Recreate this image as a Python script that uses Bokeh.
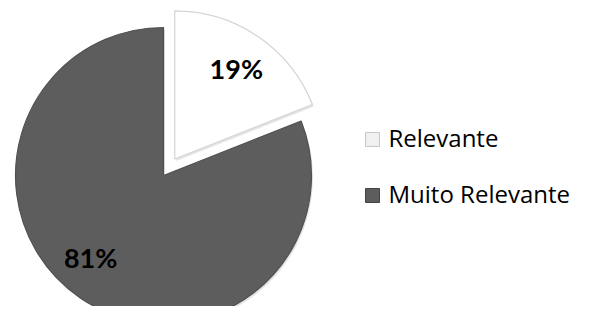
import numpy as np
from bokeh.plotting import figure
from bokeh.models import Range1d, ColumnDataSource
from bokeh.core.properties import value
from bokeh.embed import file_html
from bokeh.resources import INLINE

# ---- data ----
categories = ["Relevante", "Muito Relevante"]
shares = [19, 81]
labels = ["19%", "81%"]

# ---- style ----
colors = ["#ffffff", "#5d5d5d"]
edge_colors = ["#d4d4d4", "#505050"]
explode = [20, 0]
label_r = [0.74, 0.74]
label_dtheta = [0.0, np.deg2rad(-7.5)]

W, H = 577, 306
TOP = 322
p = figure(width=W, height=H, x_range=Range1d(0, W), y_range=Range1d(TOP - H, TOP),
           output_backend="svg", toolbar_location=None, min_border=0)
p.axis.visible = False
p.grid.visible = False
p.outline_line_color = None
p.background_fill_color = "white"

def sy(y):
    return TOP - np.asarray(y, dtype=float)

cx, cy, R = 163, float(sy(175)), 148

vals = np.array(shares, dtype=float)
frac = vals / vals.sum()
cum = np.concatenate([[0], np.cumsum(frac)])
starts = np.pi / 2 - 2 * np.pi * cum[:-1]
ends = np.pi / 2 - 2 * np.pi * cum[1:]
mids = (starts + ends) / 2
xs = cx + np.array(explode) * np.cos(mids)
ys = cy + np.array(explode) * np.sin(mids)

src = ColumnDataSource(dict(x=xs, y=ys, start=starts, end=ends, color=colors,
                            edge=edge_colors, cat=categories))

# soft shadow
p.wedge(x=xs + 1.5, y=ys - 2, radius=R, start_angle=starts, end_angle=ends,
        direction="clock", fill_color="#c4c4c4", fill_alpha=0.45, line_color=None)
p.wedge(x="x", y="y", radius=R, start_angle="start", end_angle="end",
        direction="clock", fill_color="color", line_color="edge", line_width=1.2,
        source=src)

# data labels
la = mids + np.array(label_dtheta)
lx = xs + np.array(label_r) * R * np.cos(la)
ly = ys + np.array(label_r) * R * np.sin(la)
p.text(x=lx, y=ly, text=labels, text_font=value("Lato"), text_font_style="bold",
       text_font_size="27px", text_color="black", text_align="center",
       text_baseline="middle")

# legend
leg_x = 372
leg_sq_y = sy([139, 195])
leg_txt_y = sy([137, 193])
p.rect(x=[leg_x] * 2, y=leg_sq_y, width=14, height=14, fill_color=["#f0f0f0", "#5d5d5d"],
       line_color=["#c8c8c8", "#444444"], line_width=1)
p.text(x=[388] * 2, y=leg_txt_y, text=categories, text_font=value("Open Sans"),
       text_font_size="24px", text_color="black", text_align="left",
       text_baseline="middle")

open("out.html", "w").write(file_html(p, INLINE))
